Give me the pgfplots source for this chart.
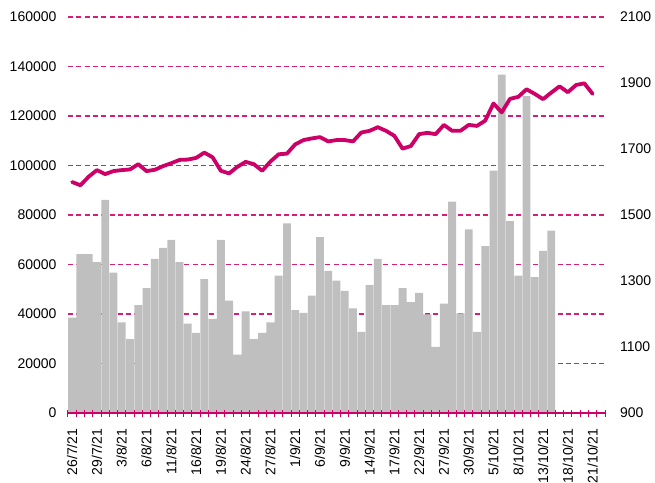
\documentclass[border=0pt]{standalone}
\usepackage{fontspec}
\setmainfont{Liberation Sans}
\usepackage{pgfplots}
\pgfplotsset{compat=1.18}
\definecolor{mag}{RGB}{204,0,102}
\definecolor{gridmag}{RGB}{214,30,120}
\definecolor{barg}{RGB}{191,191,191}

\pgfplotstableread{
x v
0 38500
1 64200
2 64200
3 61000
4 86100
5 56700
6 36600
7 29800
8 43600
9 50500
10 62300
11 66700
12 69900
13 61000
14 36100
15 32400
16 54100
17 38000
18 69900
19 45400
20 23600
21 41100
22 29800
23 32400
24 36600
25 55500
26 76600
27 41600
28 40500
29 47400
30 71100
31 57400
32 53500
33 49300
34 42300
35 32800
36 51700
37 62300
38 43600
39 43600
40 50500
41 44800
42 48500
43 39900
44 26700
45 44200
46 85400
47 40300
48 74200
49 32800
50 67400
51 97900
52 136700
53 77500
54 55500
55 128000
56 54900
57 65500
58 73700
}\barsdata

\pgfplotstableread{
x v
0 1600
1 1590
2 1616
3 1636
4 1624
5 1633
6 1636
7 1638
8 1654
9 1633
10 1637
11 1648
12 1657
13 1667
14 1668
15 1673
16 1689
17 1675
18 1634
19 1626
20 1646
21 1661
22 1654
23 1634
24 1662
25 1684
26 1686
27 1714
28 1727
29 1732
30 1736
31 1723
32 1727
33 1727
34 1723
35 1750
36 1755
37 1766
38 1755
39 1740
40 1701
41 1709
42 1745
43 1749
44 1745
45 1773
46 1755
47 1755
48 1773
49 1770
50 1786
51 1838
52 1811
53 1852
54 1858
55 1881
56 1867
57 1851
58 1871
59 1890
60 1872
61 1894
62 1899
63 1867
}\linedata

\begin{document}
\begin{tikzpicture}[x=1pt,y=1pt]
\useasboundingbox (-68,-69) rectangle (587,413);
\pgfplotsset{
  every axis/.append style={
    scale only axis, width=537pt, height=396pt,
    xmin=-0.5, xmax=64.5,
    font=\fontsize{14}{16}\selectfont,
    scaled ticks=false,
    yticklabel style={/pgf/number format/fixed, /pgf/number format/precision=0, /pgf/number format/1000 sep={}, /pgf/number format/assume math mode=true},
  }
}
\begin{axis}[
  at={(0,0)}, anchor=south west,
  ymin=0, ymax=160000,
  axis x line*=bottom, axis y line*=left,
  x axis line style={draw=none},
  y axis line style={draw=none},
  major tick length=0pt,
  ytick={0,20000,...,160000},
  xtick={0,3,...,63},
  xticklabels={26/7/21,29/7/21,3/8/21,6/8/21,11/8/21,16/8/21,19/8/21,24/8/21,27/8/21,1/9/21,6/9/21,9/9/21,14/9/21,17/9/21,22/9/21,27/9/21,30/9/21,5/10/21,8/10/21,13/10/21,18/10/21,21/10/21},
  x tick label style={yshift=-12pt, rotate=90, anchor=east},
  y tick label style={xshift=-8pt},
  ymajorgrids,
  grid style={gridmag, line width=1.4pt, dash pattern=on 5pt off 3.3pt},
]
\addplot[ybar, bar width=0.95, fill=barg, draw=none] table[x=x,y=v] {\barsdata};
\end{axis}
\begin{axis}[
  at={(0,0)}, anchor=south west,
  ymin=900, ymax=2100,
  axis x line*=bottom, axis y line*=right,
  x axis line style={mag, line width=1.2pt},
  y axis line style={draw=none},
  xtick={-0.5,0.5,...,64.5},
  xticklabels={},
  major tick length=7pt,
  tick align=center,
  xtick style={mag, line width=1pt},
  ytick style={draw=none},
  ytick={900,1100,...,2100},
  y tick label style={xshift=8pt},
]
\addplot[mag, line width=3.8pt, line join=round, line cap=round] table[x=x,y=v] {\linedata};
\end{axis}
\end{tikzpicture}
\end{document}
